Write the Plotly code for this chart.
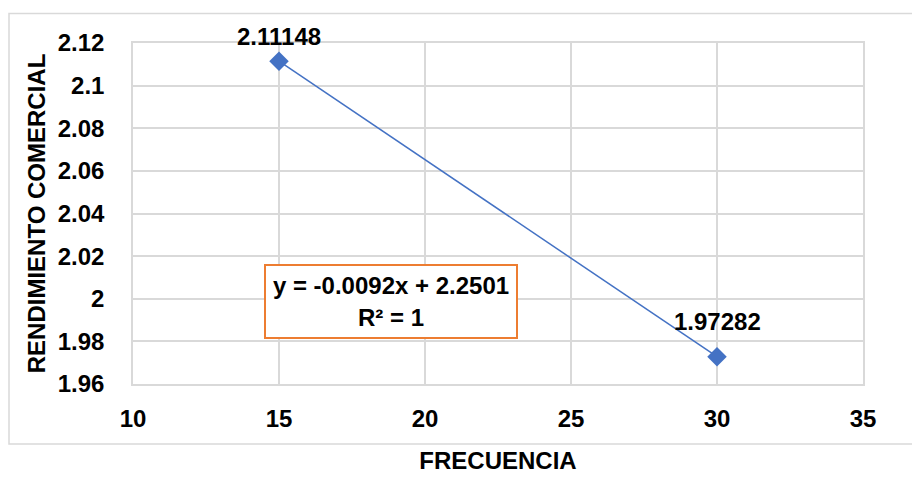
import plotly.graph_objects as go

frecuencia = [15, 30]
rendimiento = [2.11148, 1.97282]
point_labels = ["2.11148", "1.97282"]
x_ticks = [10, 15, 20, 25, 30, 35]
y_ticks = [1.96, 1.98, 2.00, 2.02, 2.04, 2.06, 2.08, 2.10, 2.12]
y_tick_text = ["1.96", "1.98", "2", "2.02", "2.04", "2.06", "2.08", "2.1", "2.12"]
equation_text = "y = -0.0092x + 2.2501<br>R² = 1"

FONT = "Liberation Sans, Arial, sans-serif"
GRID = "#D9D9D9"


def f(size=24):
    return dict(family=FONT, size=size, color="black", weight="bold")


fig = go.Figure()
fig.add_trace(go.Scatter(
    x=frecuencia, y=rendimiento,
    mode="lines+markers",
    line=dict(color="#4472C4", width=1.5),
    marker=dict(symbol="diamond", size=15, color="#4472C4"),
    showlegend=False,
))

# data labels (positioned above each point, as in the original)
label_shifts = [25, 35]
for xv, yv, lab, sh in zip(frecuencia, rendimiento, point_labels, label_shifts):
    fig.add_annotation(x=xv, y=yv, text=lab, showarrow=False,
                       xanchor="center", yanchor="middle", yshift=sh,
                       font=f())

W, H = 912, 503
L, R, T, B = 133, 49, 43, 119
pw, ph = W - L - R, H - T - B

fig.update_layout(
    width=W, height=H,
    margin=dict(l=L, r=R, t=T, b=B),
    paper_bgcolor="white", plot_bgcolor="white",
    font=f(),
    xaxis=dict(
        range=[10, 35], tickvals=x_ticks, ticktext=[str(v) for v in x_ticks],
        showgrid=True, gridcolor=GRID, gridwidth=1.5,
        showline=True, linecolor=GRID, linewidth=1.5, mirror=True,
        zeroline=False,
        ticks="outside", ticklen=12, tickcolor="rgba(0,0,0,0)",
        tickfont=f(),
        title=dict(text="FRECUENCIA", standoff=22, font=f()),
    ),
    yaxis=dict(
        range=[1.96, 2.12], tickvals=y_ticks, ticktext=y_tick_text,
        showgrid=True, gridcolor=GRID, gridwidth=1.5,
        showline=True, linecolor=GRID, linewidth=1.5, mirror=True,
        zeroline=False,
        ticks="outside", ticklen=22, tickcolor="rgba(0,0,0,0)",
        tickfont=f(),
        title=dict(text="RENDIMIENTO COMERCIAL", standoff=5, font=f()),
    ),
)

# outer chart border
fig.add_shape(type="rect", xref="paper", yref="paper",
              x0=(9 - L) / pw, x1=(920 - L) / pw,
              y0=(H - T - 520) / ph, y1=(H - B - 13.5) / ph,
              line=dict(color=GRID, width=1.5), fillcolor="rgba(0,0,0,0)", layer="below")

# trendline equation box
fig.add_annotation(
    xref="paper", yref="paper",
    x=((264 + 518) / 2 - L) / pw, y=(H - B - (264 + 339) / 2) / ph,
    xanchor="center", yanchor="middle",
    text=equation_text, showarrow=False,
    font=f(),
    bordercolor="#ED7D31", borderwidth=2, borderpad=0, bgcolor="white",
    width=250, height=71, align="center",
)

fig.write_html("out.html")
